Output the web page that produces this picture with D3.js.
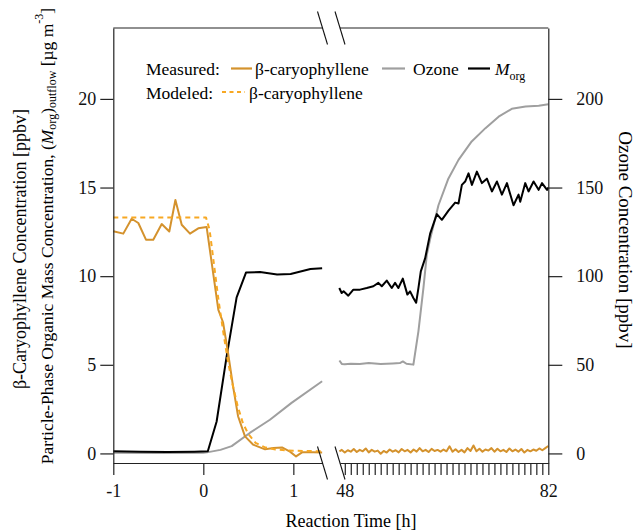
<!DOCTYPE html>
<html>
<head>
<meta charset="utf-8">
<script src="https://cdn.jsdelivr.net/npm/d3@7"></script>
<style>
  body { margin: 0; background: #fff; }
  .axis path, .axis line { stroke: #222; stroke-width: 1.2; }
</style>
</head>
<body>
<div id="chart"></div>
<script>
// left panel (reaction time -1 .. 1.3 h)
const bcpMeasT = [-1.0, -0.889, -0.796, -0.722, -0.637, -0.556, -0.462, -0.378, -0.31, -0.24, -0.148, -0.056, 0.037, 0.167, 0.219, 0.274, 0.33, 0.386, 0.463, 0.552, 0.686, 0.78, 0.874, 0.963, 1.03, 1.097, 1.219, 1.32];
const bcpMeasV = [12.53, 12.4, 13.24, 13.0, 12.06, 12.06, 12.94, 12.52, 14.3, 12.9, 12.4, 12.7, 12.77, 8.1, 7.4, 5.7, 3.8, 2.1, 0.96, 0.5, 0.23, 0.3, 0.34, 0.1, -0.17, 0.06, 0.06, 0.05];
const bcpModT = [-1.0, 0.03, 0.07, 0.12, 0.17, 0.22, 0.27, 0.32, 0.38, 0.44, 0.5, 0.58, 0.68, 0.8, 1.0, 1.32];
const bcpModV = [13.31, 13.31, 12.6, 10.6, 8.6, 6.9, 5.3, 4.0, 2.7, 1.7, 1.1, 0.6, 0.35, 0.22, 0.15, 0.12];
const morgLT = [-1.0, -0.7, -0.4, -0.1, 0.05, 0.148, 0.26, 0.37, 0.474, 0.63, 0.82, 0.97, 1.19, 1.32];
const morgLV = [0.12, 0.1, 0.08, 0.1, 0.12, 1.8, 5.5, 8.8, 10.2, 10.23, 10.1, 10.12, 10.4, 10.45];
const ozoneLT = [-1.0, -0.5, 0.0, 0.04, 0.19, 0.315, 0.52, 0.74, 0.98, 1.32];
const ozoneLV = [0.4, 0.3, 0.4, 0.6, 2.0, 4.1, 11.7, 19, 28.5, 40.7];

// right panel (reaction time 48 .. 82 h)
const ozoneRT = [47.1, 47.5, 48.0, 49.0, 50.5, 52.0, 54.0, 56.0, 57.2, 57.7, 58.3, 59.46, 60.3, 61.14, 61.7, 62.26, 63.65, 65.3, 67.0, 69.2, 71.5, 73.7, 75.9, 78.2, 80.4, 82.0];
const ozoneRV = [52.4, 50.5, 50.3, 50.6, 50.4, 51.0, 50.5, 50.8, 51.0, 51.9, 50.6, 50.1, 68.9, 93.4, 112, 121, 140, 155, 165.6, 176, 183.5, 190, 194.4, 195.7, 196.2, 197];
const morgRT = [47.08, 47.48, 47.8, 48.59, 49.43, 50.55, 51.67, 52.77, 53.61, 54.18, 55.01, 55.85, 56.4, 56.95, 57.69, 58.46, 58.91, 59.46, 59.92, 60.3, 60.7, 61.42, 62.26, 63.38, 64.22, 65.32, 66.44, 67.0, 67.56, 68.11, 68.67, 69.24, 70.07, 70.91, 71.74, 72.58, 73.42, 74.25, 75.09, 76.19, 77.03, 77.31, 78.15, 78.7, 79.54, 80.38, 80.95, 81.79, 82.0];
const morgRV = [9.33, 9.05, 9.15, 8.9, 9.24, 9.24, 9.33, 9.43, 9.62, 9.43, 9.75, 9.33, 9.62, 9.33, 9.86, 8.96, 9.14, 8.77, 8.5, 9.33, 10.27, 11.0, 12.4, 13.5, 13.18, 13.7, 14.15, 14.1, 15.15, 15.34, 15.8, 15.15, 15.9, 15.25, 15.5, 14.78, 15.34, 14.6, 15.25, 14.0, 14.6, 14.2, 15.25, 14.78, 15.34, 14.87, 15.25, 14.87, 15.0];
const bcpRT = [47.1, 47.5, 48, 48.5, 49, 49.5, 50, 50.5, 51, 51.5, 52, 52.5, 53, 53.5, 54, 54.5, 55, 55.5, 56, 56.5, 57, 57.5, 58, 58.5, 59, 59.5, 60, 60.5, 61, 61.5, 62, 62.5, 63, 63.5, 64, 64.5, 65, 65.5, 66, 66.5, 67, 67.5, 68, 68.5, 69, 69.5, 70, 70.5, 71, 71.5, 72, 72.5, 73, 73.5, 74, 74.5, 75, 75.5, 76, 76.5, 77, 77.5, 78, 78.5, 79, 79.5, 80, 80.5, 81, 81.5, 82];
const bcpRV = [0.12, 0.2, 0.05, 0.18, 0.1, 0.25, 0.08, 0.2, 0.12, 0.28, 0.06, 0.2, 0.1, 0.16, -0.02, 0.14, 0.05, 0.22, 0.1, 0.18, 0.06, 0.25, 0.12, 0.2, 0.05, 0.22, 0.1, 0.3, 0.12, 0.2, 0.08, 0.26, 0.14, 0.2, 0.1, 0.22, 0.12, 0.4, 0.1, 0.24, 0.08, 0.2, 0.06, 0.3, 0.14, 0.45, 0.12, 0.26, 0.1, 0.22, 0.16, 0.3, 0.1, 0.26, 0.12, 0.2, 0.08, 0.28, 0.12, 0.22, 0.1, 0.25, 0.05, 0.2, 0.12, 0.22, 0.15, 0.28, 0.18, 0.3, 0.42];

const leftTicks = [0, 5, 10, 15, 20];
const rightTicks = [0, 50, 100, 150, 200];
const xLeftTicks = [-1, 0, 1];
const xRightTicks = d3.range(48, 83);
const xRightLabels = [48, 82];

const colMeas = "#d4922d";
const colMod = "#f7a823";
const colOzone = "#9f9f9f";
const colMorg = "#000";
const serif = "'Liberation Serif', 'Times New Roman', Times, 'Nimbus Roman', 'Noto Serif', 'DejaVu Serif', FreeSerif, serif";

const width = 636;
const height = 531;
const plotTop = 28;
const plotBottom = 463;

const xL = d3.scaleLinear().domain([-1, 1.324]).range([113.3, 322.5]);
const xR = d3.scaleLinear().domain([47.2, 82]).range([340, 548.3]);
const yL = d3.scaleLinear().domain([-0.54, 24]).range([plotBottom, plotTop]);
const yR = d3.scaleLinear().domain([-5.4, 240]).range([plotBottom, plotTop]);

const svg = d3.select("#chart").append("svg")
  .attr("width", width)
  .attr("height", height)
  .attr("font-family", serif)
  .style("font-family", serif);

const pair = (t, v) => d3.zip(t, v);
const plain = d => String(d);

const drawLine = (data, x, y, color, dash) => {
  svg.append("path")
    .datum(data)
    .attr("fill", "none")
    .attr("stroke", color)
    .attr("stroke-width", 2)
    .attr("stroke-linejoin", "round")
    .attr("stroke-dasharray", dash || null)
    .attr("d", d3.line().x(d => x(d[0])).y(d => y(d[1])));
};

// series, left panel
drawLine(pair(ozoneLT, ozoneLV), xL, yR, colOzone);
drawLine(pair(morgLT, morgLV), xL, yL, colMorg);
drawLine(pair(bcpMeasT, bcpMeasV), xL, yL, colMeas);
drawLine(pair(bcpModT, bcpModV), xL, yL, colMod, "5,4");

// series, right panel
drawLine(pair(ozoneRT, ozoneRV), xR, yR, colOzone);
drawLine(pair(morgRT, morgRV), xR, yL, colMorg);
drawLine(pair(bcpRT, bcpRV), xR, yL, colMeas);

// axes
const styleAxis = g => {
  g.attr("font-family", serif).attr("font-size", 18);
  g.selectAll("text").style("font-family", serif).attr("fill", "#111");
};

svg.append("g")
  .attr("class", "axis")
  .attr("transform", `translate(${xL.range()[0]},0)`)
  .call(d3.axisLeft(yL).tickValues(leftTicks).tickFormat(plain).tickSize(13).tickSizeOuter(0).tickPadding(4))
  .call(styleAxis);

svg.append("g")
  .attr("class", "axis")
  .attr("transform", `translate(${xR.range()[1]},0)`)
  .call(d3.axisRight(yR).tickValues(rightTicks).tickFormat(plain).tickSize(14).tickSizeOuter(0).tickPadding(14))
  .call(styleAxis);

svg.append("g")
  .attr("class", "axis")
  .attr("transform", `translate(0,${plotBottom})`)
  .call(d3.axisBottom(xL).tickValues(xLeftTicks).tickFormat(plain).tickSize(12).tickSizeOuter(0).tickPadding(9))
  .call(styleAxis);

svg.append("g")
  .attr("class", "axis")
  .attr("transform", `translate(0,${plotBottom})`)
  .call(d3.axisBottom(xR).tickValues(xRightTicks).tickSize(12).tickSizeOuter(0).tickPadding(9)
    .tickFormat(d => xRightLabels.includes(d) ? String(d) : ""))
  .call(styleAxis);

// top border, broken
[[xL.range()[0], xL.range()[1]], [xR.range()[0], xR.range()[1]]].forEach(([a, b]) => {
  svg.append("line")
    .attr("x1", a).attr("x2", b)
    .attr("y1", plotTop).attr("y2", plotTop)
    .attr("stroke", "#222").attr("stroke-width", 1.2);
});

// break marks
[xL.range()[1], xR.range()[0]].forEach(bx => {
  [plotTop, plotBottom].forEach(by => {
    svg.append("line")
      .attr("x1", bx - 5).attr("y1", by - 16.5)
      .attr("x2", bx + 5).attr("y2", by + 16.5)
      .attr("stroke", "#111").attr("stroke-width", 1.1);
  });
});

// axis titles
svg.append("text")
  .attr("transform", "translate(351,527)")
  .attr("text-anchor", "middle")
  .attr("font-size", 18)
  .text("Reaction Time [h]");

svg.append("text")
  .attr("transform", "translate(20,249) rotate(-90)")
  .attr("text-anchor", "middle")
  .attr("dominant-baseline", "central")
  .attr("font-size", 18)
  .text("β-Caryophyllene Concentration [ppbv]");

const t2 = svg.append("text")
  .attr("transform", "translate(47,236) rotate(-90)")
  .attr("text-anchor", "middle")
  .attr("dominant-baseline", "central")
  .attr("font-size", 17.5);
t2.append("tspan").text("Particle-Phase Organic Mass Concentration, (");
t2.append("tspan").attr("font-style", "italic").text("M");
t2.append("tspan").attr("font-size", 12).attr("dy", 5).text("org");
t2.append("tspan").attr("dy", -5).text(")");
t2.append("tspan").attr("font-size", 12).attr("dy", 5).text("outflow");
t2.append("tspan").attr("dy", -5).text(" [µg m");
t2.append("tspan").attr("font-size", 12).attr("dy", -8).text("-3");
t2.append("tspan").attr("dy", 8).text("]");

svg.append("text")
  .attr("transform", "translate(625,240) rotate(90)")
  .attr("text-anchor", "middle")
  .attr("dominant-baseline", "central")
  .attr("font-size", 19)
  .text("Ozone Concentration [ppbv]");

// legend
const legend = svg.append("g").attr("font-size", 17.5);
legend.append("text").attr("x", 146).attr("y", 75).text("Measured:");
legend.append("text").attr("x", 146).attr("y", 99).text("Modeled:");

const legLine = (x1, x2, y, color, dash) => legend.append("line")
  .attr("x1", x1).attr("x2", x2).attr("y1", y).attr("y2", y)
  .attr("stroke", color).attr("stroke-width", 2.2)
  .attr("stroke-dasharray", dash || null);

legLine(231, 252, 68.5, colMeas);
legend.append("text").attr("x", 255).attr("y", 75).text("β-caryophyllene");
legLine(382, 405, 68.5, colOzone);
legend.append("text").attr("x", 413).attr("y", 75).text("Ozone");
legLine(468, 490, 68.5, colMorg);
const mt = legend.append("text").attr("x", 495).attr("y", 75);
mt.append("tspan").attr("font-style", "italic").text("M");
mt.append("tspan").attr("font-size", 12).attr("dy", 5).text("org");

legLine(222, 245, 92, colMod, "4,3.5");
legend.append("text").attr("x", 249).attr("y", 99).text("β-caryophyllene");
</script>
</body>
</html>
